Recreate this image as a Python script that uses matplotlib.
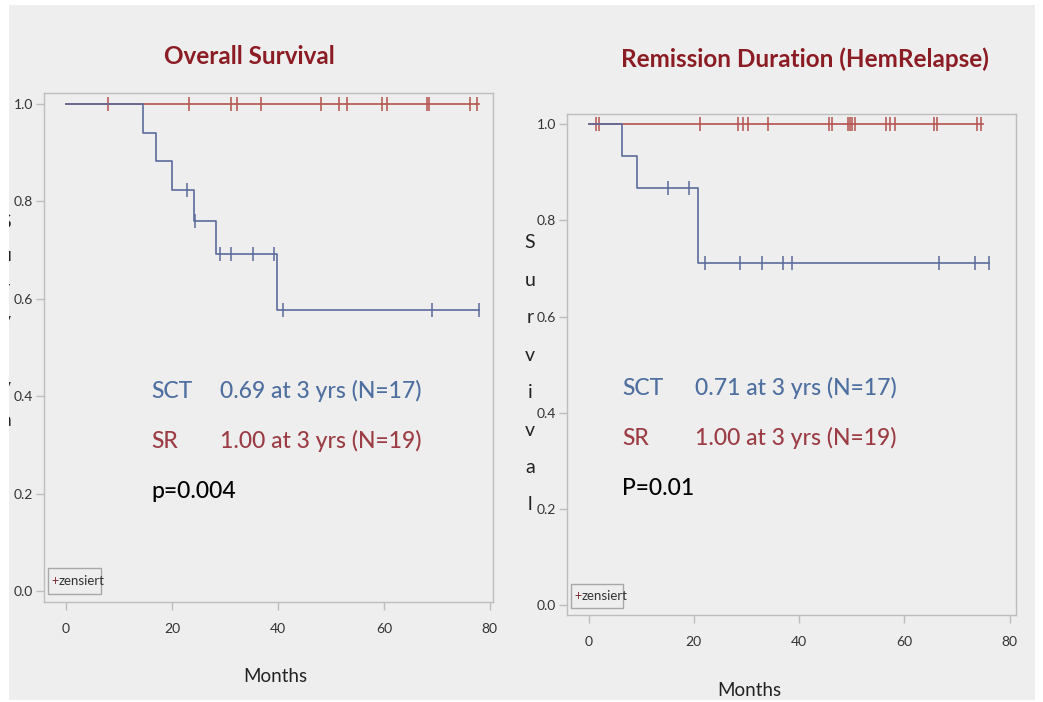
import numpy as np
import matplotlib.pyplot as plt
from matplotlib.patches import Rectangle

# Figure size in pixels
W, H = 1043, 702

# ---- Overall survival (left) ----
os_sct_times = [0, 14.6, 17.0, 20.0, 24.2, 28.3, 39.9, 78.0]
os_sct_surv = [1.0, 0.941, 0.882, 0.824, 0.760, 0.691, 0.576, 0.576]
os_sct_cens = [22.8, 24.4, 29.1, 31.1, 35.3, 39.2, 41.0, 69.0, 78.0]
os_sr_times = [0, 77.9]
os_sr_surv = [1.0, 1.0]
os_sr_cens = [8.0, 23.2, 31.1, 32.3, 36.9, 48.1, 51.6, 53.0, 59.6, 60.6,
              68.1, 68.5, 76.2, 77.6]

# ---- Remission duration (right) ----
rd_sct_times = [0, 6.4, 9.2, 20.7, 76.1]
rd_sct_surv = [1.0, 0.933, 0.868, 0.711, 0.711]
rd_sct_cens = [15.1, 19.0, 22.1, 28.8, 33.0, 37.0, 38.6, 66.5, 73.4, 76.1]
rd_sr_times = [0, 75.0]
rd_sr_surv = [1.0, 1.0]
rd_sr_cens = [1.5, 1.9, 21.2, 28.3, 29.3, 30.2, 34.0, 45.7, 46.2, 49.2, 49.7,
              50.1, 50.6, 56.5, 57.3, 58.2, 65.6, 66.2, 73.7, 74.6]

xticks = [0, 20, 40, 60, 80]
yticks = [0.0, 0.2, 0.4, 0.6, 0.8, 1.0]

# colours
bg = '#eeeeee'
c_blue_line = '#5b6a9c'
c_red_line = '#b5524f'
c_blue_txt = '#4e6f9f'
c_red_txt = '#9c3d45'
c_title = '#8b1c24'
c_tick = '#333333'
c_frame = '#bdbdbd'

plt.rcParams['font.family'] = ['Lato', 'DejaVu Sans']


def fx(x):
    return x / W


def fy(y):
    return 1 - y / H


def surv_at(times, surv, t):
    i = np.searchsorted(times, t, side='right') - 1
    return np.asarray(surv)[i]


def km(ax, times, surv, cens, color):
    ax.step(times, surv, where='post', color=color, lw=1.2)
    ax.plot(cens, [surv_at(times, surv, c) for c in cens], ls='none',
            marker='|', ms=10, mew=1.1, color=color)


fig = plt.figure(figsize=(W / 100, H / 100), dpi=100)
fig.patch.set_facecolor('white')
fig.patches.append(Rectangle((fx(9), fy(700)), fx(1035 - 9), (700 - 5) / H,
                             transform=fig.transFigure, fc=bg, ec='none',
                             zorder=-10))

# axes boxes (pixel extents) and data limits
ax1 = fig.add_axes([fx(44), fy(602), fx(493 - 44), (602 - 93) / H])
ax2 = fig.add_axes([fx(567), fy(615), fx(1016 - 567), (615 - 114) / H])
ax1.set_xlim(-4.15, 80.6)
ax1.set_ylim(-0.0226, 1.0226)
ax2.set_xlim(-4.1, 81.2)
ax2.set_ylim(-0.0208, 1.0214)

km(ax1, os_sr_times, os_sr_surv, os_sr_cens, c_red_line)
km(ax1, os_sct_times, os_sct_surv, os_sct_cens, c_blue_line)
km(ax2, rd_sr_times, rd_sr_surv, rd_sr_cens, c_red_line)
km(ax2, rd_sct_times, rd_sct_surv, rd_sct_cens, c_blue_line)

for ax in (ax1, ax2):
    ax.set_facecolor(bg)
    for s in ax.spines.values():
        s.set_color(c_frame)
        s.set_linewidth(1.0)
    ax.set_xticks(xticks)
    ax.set_yticks(yticks)
    ax.set_yticklabels([f'{v:.1f}' for v in yticks])
    ax.tick_params(colors=c_frame, labelcolor=c_tick, labelsize=10,
                   length=6, width=1)
    ax.tick_params(axis='x', pad=9)
    ax.tick_params(axis='y', pad=2)

# titles
fig.text(fx(249), fy(56), 'Overall Survival', color=c_title, fontsize=17.5,
         fontweight='bold', ha='center', va='center')
fig.text(fx(805), fy(59), 'Remission Duration (HemRelapse)', color=c_title,
         fontsize=17.5, fontweight='bold', ha='center', va='center')

# annotations
def annot(ax, x0, x1, ys, sct, sr, p):
    kw = dict(fontsize=16.5, va='baseline', fontweight='medium')
    ax.text(x0, ys[0], 'SCT', color=c_blue_txt, **kw)
    ax.text(x1, ys[0], sct, color=c_blue_txt, **kw)
    ax.text(x0, ys[1], 'SR', color=c_red_txt, **kw)
    ax.text(x1, ys[1], sr, color=c_red_txt, **kw)
    ax.text(x0, ys[2], p, color='black', **kw)


annot(ax1, 16.2, 29.1, [0.396, 0.294, 0.191],
      '0.69 at 3 yrs (N=17)', '1.00 at 3 yrs (N=19)', 'p=0.004')
annot(ax2, 6.4, 20.2, [0.437, 0.333, 0.229],
      '0.71 at 3 yrs (N=17)', '1.00 at 3 yrs (N=19)', 'P=0.01')

# "+ zensiert" boxes
for (bx0, by0, bx1, by1) in [(48, 568, 101, 594), (571, 584, 623, 608)]:
    fig.patches.append(Rectangle((fx(bx0), fy(by1)), fx(bx1 - bx0),
                                 (by1 - by0) / H, transform=fig.transFigure,
                                 fc='none', ec='#a8a8a8', lw=1, zorder=5))
    fig.text(fx(bx0 + 3), fy((by0 + by1) / 2), '+', color='#7a2a30',
             fontsize=9, va='center', zorder=6)
    fig.text(fx(bx0 + 11), fy((by0 + by1) / 2), 'zensiert', color='#333333',
             fontsize=9.5, va='center', zorder=6)

# x labels
fig.text(fx(275), fy(676), 'Months', fontsize=13.5, color='#222222',
         ha='center', va='center')
fig.text(fx(749), fy(690), 'Months', fontsize=13.5, color='#222222',
         ha='center', va='center')

# stacked y labels
letters = list('Survival')
for i, ch in enumerate(letters):
    fig.text(fx(530), fy(243 + i * 37.4), ch, fontsize=14, color='#222222',
             ha='center', va='center')
    fig.text(fx(6), fy(222 + i * 33), ch, fontsize=14, color='#222222',
             ha='center', va='center', zorder=3)

# white border over everything (cuts off the left letters and bottom label)
for r in [(0, 0, 9, H), (0, 0, W, 5), (1035, 0, W - 1035, H), (0, 700, W, 2)]:
    x, y, w, h = r
    fig.patches.append(Rectangle((fx(x), fy(y + h)), fx(w), h / H,
                                 transform=fig.transFigure, fc='white',
                                 ec='none', zorder=20))

fig.savefig('out.png', dpi=100)
